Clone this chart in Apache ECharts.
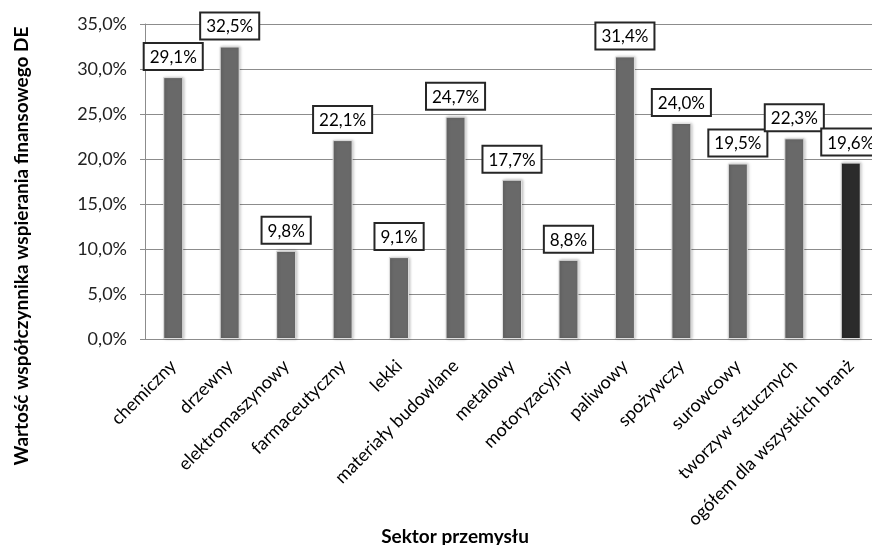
<!DOCTYPE html>
<html>
<head>
<meta charset="utf-8">
<script src="https://cdn.jsdelivr.net/npm/echarts@6/dist/echarts.min.js"></script>
<style>
  html, body { margin: 0; padding: 0; background: #fff; }
  #chart { width: 872px; height: 545px; }
</style>
</head>
<body>
<div id="chart"></div>
<script>
const categories = [
  'chemiczny', 'drzewny', 'elektromaszynowy', 'farmaceutyczny', 'lekki',
  'materiały budowlane', 'metalowy', 'motoryzacyjny', 'paliwowy', 'spożywczy',
  'surowcowy', 'tworzyw sztucznych', 'ogółem dla wszystkich branż'
];
const values = [29.1, 32.5, 9.8, 22.1, 9.1, 24.7, 17.7, 8.8, 31.4, 24.0, 19.5, 22.3, 19.6];
const highlightIndex = 12;

const font = 'Lato, "Open Sans", sans-serif';
const fmt = (v) => Number(v).toFixed(1).replace('.', ',') + '%';

const chart = echarts.init(document.getElementById('chart'));
chart.setOption({
  animation: false,
  textStyle: { fontFamily: font },
  graphic: [
    {
      type: 'text',
      x: 22,
      y: 246,
      rotation: Math.PI / 2,
      style: {
        text: 'Wartość współczynnika wspierania finansowego DE',
        font: 'bold 19px ' + font,
        fill: '#000',
        align: 'center',
        verticalAlign: 'middle',
      },
    },
    {
      type: 'text',
      x: 455,
      y: 537,
      style: {
        text: 'Sektor przemysłu',
        font: 'bold 19px ' + font,
        fill: '#000',
        align: 'center',
        verticalAlign: 'middle',
      },
    },
  ],
  grid: {
    left: 145,
    top: 24,
    right: -7,
    bottom: 206,
    outerBoundsMode: 'none',
  },
  xAxis: {
    type: 'category',
    data: categories,
    axisLine: { lineStyle: { color: '#8c8c8c' } },
    axisTick: { length: 5, lineStyle: { color: '#8c8c8c' } },
    axisLabel: {
      interval: 0,
      rotate: 45,
      margin: 24,
      fontSize: 18,
      color: '#000',
      fontFamily: font,
    },
  },
  yAxis: {
    type: 'value',
    min: 0,
    max: 35,
    interval: 5,
    axisLine: { show: true, lineStyle: { color: '#8c8c8c' } },
    axisTick: { show: true, length: 5, lineStyle: { color: '#8c8c8c' } },
    splitLine: { lineStyle: { color: '#8c8c8c' } },
    axisLabel: {
      formatter: fmt,
      fontSize: 18,
      color: '#222',
      margin: 18,
      fontFamily: font,
    },
  },
  series: [
    {
      type: 'bar',
      barWidth: 20,
      data: values.map((v, i) => (i === highlightIndex
        ? { value: v, itemStyle: { color: '#2b2b2b' } }
        : v)),
      itemStyle: {
        color: '#696969',
        borderColor: '#e0e0e0',
        borderWidth: 1,
        shadowColor: 'rgba(0,0,0,0.25)',
        shadowBlur: 3,
        shadowOffsetX: 1,
        shadowOffsetY: 0,
      },
      label: {
        show: true,
        position: 'top',
        distance: 8,
        formatter: (p) => fmt(p.value),
        fontSize: 17,
        fontFamily: font,
        color: '#000',
        backgroundColor: '#fff',
        borderColor: '#262626',
        borderWidth: 2,
        padding: [5, 5, 3, 5],
      },
    },
  ],
});
</script>
</body>
</html>
